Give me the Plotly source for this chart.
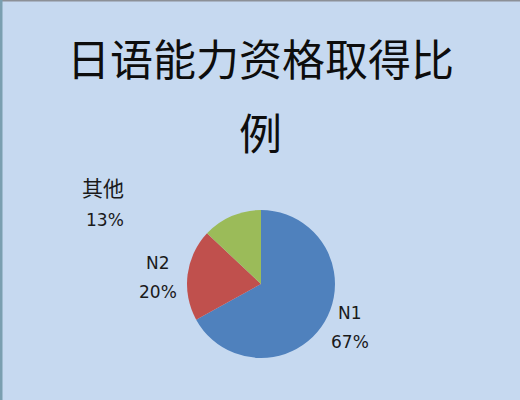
import plotly.graph_objects as go

# Chart data
title_lines = ['日语能力资格取得比', '例']
labels = ['N1', 'N2', '其他']
values = [67, 20, 13]
colors = ['#4F81BD', '#C0504D', '#9BBB59']

title_font = 'Noto Sans CJK SC, Microsoft YaHei, sans-serif'
label_font = 'DejaVu Sans, Noto Sans CJK SC, sans-serif'
total = sum(values)

fig = go.Figure(go.Pie(
    labels=labels,
    values=values,
    sort=False,
    direction='clockwise',
    rotation=0,
    marker=dict(colors=colors, line=dict(width=0)),
    textinfo='none',
    hoverinfo='label+percent',
    showlegend=False,
    domain=dict(x=[0.3596, 0.6442], y=[0.105, 0.475]),
))

# Data labels (label above, percent below), placed like the original
label_pos = [(350, 313), (158, 263), (103, 189)]
annotations = []
for lab, val, (px_, py_) in zip(labels, values, label_pos):
    # CJK glyphs are drawn a bit larger in the original
    size = 21 if not lab.isascii() else 17
    annotations.append(dict(text=lab, x=px_ / 520, y=1 - py_ / 400,
                            font=dict(family=label_font, size=size, color='#1a1a1a')))
    annotations.append(dict(text='%d%%' % round(100 * val / total),
                            x=(px_ + (2 if size == 21 else 0)) / 520,
                            y=1 - (py_ + (31 if size == 21 else 29)) / 400,
                            font=dict(family=label_font, size=17, color='#1a1a1a')))
for a in annotations:
    a.update(xref='paper', yref='paper', showarrow=False,
             xanchor='center', yanchor='middle')

# Title on two lines, wide spacing as in the source
annotations.append(dict(text=title_lines[0], x=0.5, y=1 - 57 / 400))
annotations.append(dict(text=title_lines[1], x=0.5, y=1 - 131 / 400))
for a in annotations[-2:]:
    a.update(xref='paper', yref='paper', showarrow=False,
             xanchor='center', yanchor='middle',
             font=dict(family=title_font, size=43, color='#0d0d0d'))

fig.update_layout(
    width=520, height=400,
    margin=dict(l=0, r=0, t=0, b=0),
    paper_bgcolor='#C6D9F0',
    plot_bgcolor='#C6D9F0',
    annotations=annotations,
    shapes=[
        dict(type='line', xref='paper', yref='paper', x0=0, x1=1, y0=1, y1=1,
             line=dict(color='#8C9097', width=3)),
        dict(type='line', xref='paper', yref='paper', x0=0, x1=0, y0=0, y1=1,
             line=dict(color='#7A9FB0', width=5)),
    ],
)

# the page body has a default margin; drop it so the chart fills the window
fig.write_html('out.html', config=dict(displayModeBar=False),
               post_script="document.body.style.margin='0';")
